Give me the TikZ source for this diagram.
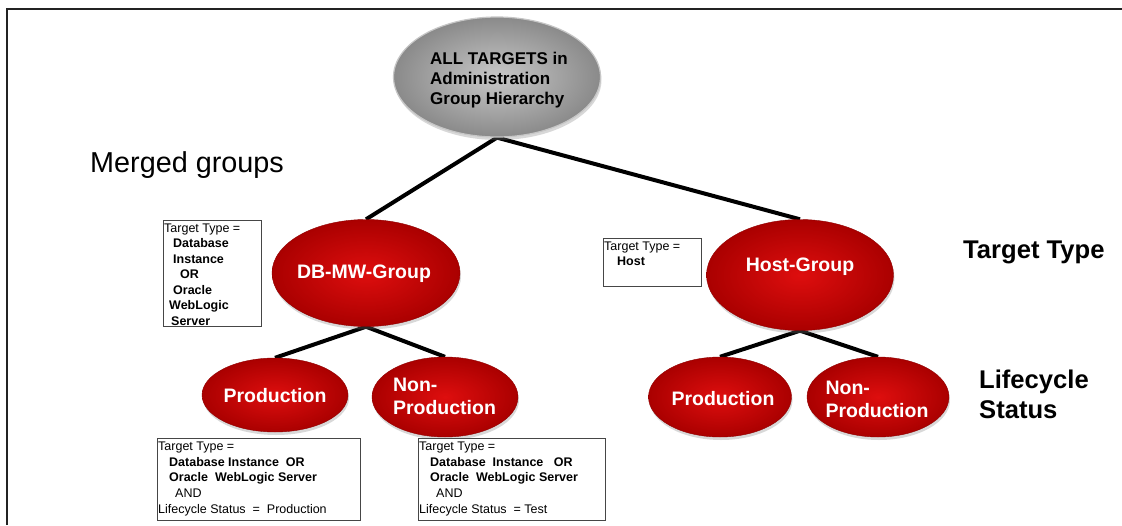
\documentclass[tikz,border=0pt]{standalone}
\usepackage{fontspec}
\setmainfont{Liberation Sans}
\usetikzlibrary{shapes.geometric,shadows,backgrounds}
\definecolor{redin}{RGB}{222,14,14}
\definecolor{redout}{RGB}{170,0,0}
\definecolor{grayin}{RGB}{200,200,200}
\definecolor{grayout}{RGB}{138,138,138}
\definecolor{framecol}{RGB}{35,35,35}
\definecolor{boxcol}{RGB}{70,70,70}
\begin{document}
\begin{tikzpicture}[x=1pt,y=-1pt,
  redell/.style={ellipse, inner sep=0pt, inner color=redin, outer color=redout,
    draw=redout!85!black, line width=0.4pt,
    drop shadow={shadow xshift=1pt,shadow yshift=-3pt,opacity=0.3}},
  grayell/.style={ellipse, inner sep=0pt, inner color=grayin, outer color=grayout,
    draw=gray!45, line width=1.2pt,
    drop shadow={shadow xshift=1pt,shadow yshift=-3pt,opacity=0.3}},
  redtext/.style={text=white, font=\fontsize{19.5}{23}\selectfont\bfseries, align=left, inner sep=0pt},
  conn/.style={line width=4pt, black},
  infobox/.style={draw=boxcol, line width=0.8pt, fill=white, inner sep=0pt, anchor=north west},
  infotext/.style={font=\fontsize{12.5}{15.5}\selectfont, align=left, inner sep=0pt, anchor=north west},
  bigbold/.style={font=\fontsize{25.6}{30}\selectfont\bfseries, align=left, inner sep=0pt}]
\useasboundingbox (0,0) rectangle (1122,525);

% ellipses
\node[grayell, minimum width=207pt, minimum height=120pt] (all) at (497,77) {};
\node[font=\fontsize{17}{20}\selectfont\bfseries, align=left, inner sep=0pt, anchor=north west] (allt) at (430,52) {ALL TARGETS in\\Administration\\Group Hierarchy};

\node[redell, minimum width=188pt, minimum height=107pt] (db) at (366,273) {};
\node[redtext] (dbt) at (364,274) {DB-MW-Group};

\node[redell, minimum width=187pt, minimum height=111pt] (host) at (800,275) {};
\node[redtext] (hostt) at (800,267) {Host-Group};

\node[redell, minimum width=146pt, minimum height=74pt] (p1) at (275,395) {};
\node[redtext] (p1t) at (275,396) {Production};

\node[redell, minimum width=146pt, minimum height=80pt] (np1) at (445,397) {};
\node[redtext] (np1t) at (444.5,396.5) {Non-\\Production};

\node[redell, minimum width=143pt, minimum height=80pt] (p2) at (720,397) {};
\node[redtext] (p2t) at (723,399) {Production};

\node[redell, minimum width=142pt, minimum height=80pt] (np2) at (878,397) {};
\node[redtext] (np2t) at (877,399) {Non-\\Production};

% background, frame and connectors
\begin{pgfonlayer}{background}
\fill[white] (0,0) rectangle (1122,525);
\draw[framecol, line width=2.5pt] (7,525) -- (7,9) -- (1122,9);
\draw[conn] (all.south) -- (db.north);
\draw[conn] (all.south) -- (host.north);
\draw[conn] (db.south) -- (p1.north);
\draw[conn] (db.south) -- (np1.north);
\draw[conn] (host.south) -- (p2.north);
\draw[conn] (host.south) -- (np2.north);
\end{pgfonlayer}

% info boxes
\node[infobox, minimum width=98pt, minimum height=106pt] (b1) at (163,220) {};
\node[infotext] (b1t) at (164,223.5) {Target Type =\\
\hspace*{9pt}\textbf{Database}\\
\hspace*{9pt}\textbf{Instance}\\
\hspace*{16pt}\textbf{OR}\\
\hspace*{9pt}\textbf{Oracle}\\
\hspace*{5pt}\textbf{WebLogic}\\
\hspace*{7pt}\textbf{Server}};

\node[infobox, minimum width=98pt, minimum height=48pt] (b2) at (603,238) {};
\node[infotext] (b2t) at (604,241.5) {Target Type =\\
\hspace*{13pt}\textbf{Host}};

\node[infobox, minimum width=203pt, minimum height=82pt] (b3) at (157,438) {};
\node[infotext, font=\fontsize{12.5}{15.75}\selectfont] (b3t) at (158,441.5) {Target Type =\\
\hspace*{11pt}\textbf{Database Instance\ \ OR}\\
\hspace*{11pt}\textbf{Oracle\ \ WebLogic Server}\\
\hspace*{17pt}AND\\
Lifecycle Status\ \ =\ \ Production};

\node[infobox, minimum width=187pt, minimum height=82pt] (b4) at (418,438) {};
\node[infotext, font=\fontsize{12.5}{15.75}\selectfont] (b4t) at (419,441.5) {Target Type =\\
\hspace*{11pt}\textbf{Database\ \ Instance\ \ \ OR}\\
\hspace*{11pt}\textbf{Oracle\ \ WebLogic Server}\\
\hspace*{17pt}AND\\
Lifecycle Status\ \ = Test};

% side labels
\node[font=\fontsize{28.8}{34}\selectfont, anchor=base west, inner sep=0pt] (merged) at (90,172) {Merged groups};
\node[bigbold, anchor=base west] (tt) at (963,258) {Target Type};
\node[bigbold, anchor=north west] (lc) at (979,369.5) {Lifecycle\\Status};
\end{tikzpicture}
\end{document}
